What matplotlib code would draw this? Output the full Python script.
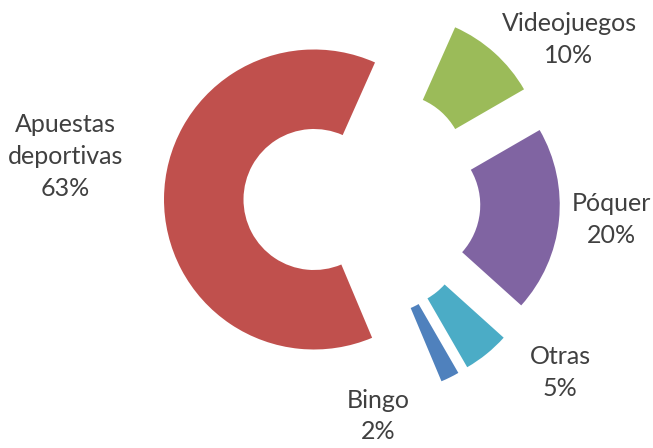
import matplotlib.pyplot as plt

# data (clockwise, starting at the Videojuegos slice)
categories = ["Videojuegos", "Póquer", "Otras", "Bingo", "Apuestas\ndeportivas"]
shares = [10, 20, 5, 2, 63]
colors = ["#9BBB59", "#8064A2", "#4BACC6", "#4F81BD", "#C0504D"]

# label anchors in data units (radius = 1)
label_pos = [(1.38, 1.07), (1.66, -0.13), (1.32, -1.15), (0.107, -1.44), (-1.977, 0.29)]

plt.rcParams['font.family'] = ['Lato', 'DejaVu Sans']

fig = plt.figure(figsize=(6.53, 4.48), dpi=100)
ax = fig.add_axes([0, 0, 1, 1])

wedges, _ = ax.pie(shares, colors=colors, startangle=66, counterclock=False,
                   explode=[0.32] * len(shares), radius=1.0,
                   wedgeprops={'width': 0.53, 'linewidth': 0})

for name, val, (x, y) in zip(categories, shares, label_pos):
    ax.text(x, y, "{}\n{}%".format(name, val), ha='center', va='center',
            fontsize=18, color='#404040', linespacing=1.45)

ax.set_xlim(-362 / 150, (653 - 362) / 150)
ax.set_ylim((200 - 448) / 150, 200 / 150)
ax.set_aspect('auto')
ax.axis('off')

fig.savefig('out.png', dpi=100)
